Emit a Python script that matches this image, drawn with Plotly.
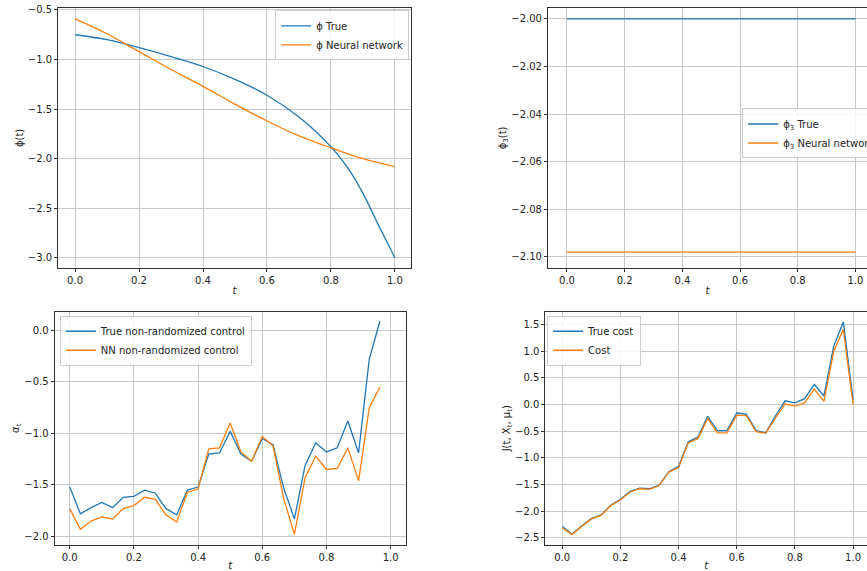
import plotly.graph_objects as go

# phi
t_phi = [0.0, 0.1, 0.2, 0.3, 0.4, 0.5, 0.6, 0.7, 0.8, 0.85, 0.9, 0.95, 1.0]
phi_true = [-0.75, -0.80, -0.88, -0.97, -1.07, -1.20, -1.36, -1.58, -1.88, -2.08, -2.35, -2.68, -3.0]
t_phi_nn = [0.0, 0.1, 0.2, 0.3, 0.4, 0.5, 0.6, 0.7, 0.8, 0.9, 1.0]
phi_nn = [-0.59, -0.74, -0.92, -1.10, -1.27, -1.45, -1.62, -1.77, -1.89, -2.00, -2.08]

# phi3
t_phi3 = [0.0, 1.0]
phi3_true = [-2.0, -2.0]
phi3_nn = [-2.098, -2.098]

# control
t_alpha = [k / 30 for k in range(30)]
alpha_true = [-1.52, -1.78, -1.72, -1.67, -1.72, -1.62, -1.61, -1.55, -1.58, -1.73,
              -1.79, -1.55, -1.52, -1.20, -1.19, -0.98, -1.20, -1.27, -1.05, -1.11,
              -1.53, -1.83, -1.31, -1.09, -1.18, -1.14, -0.88, -1.19, -0.28, 0.09]
alpha_nn = [-1.73, -1.93, -1.85, -1.81, -1.83, -1.73, -1.70, -1.62, -1.64, -1.79,
            -1.86, -1.57, -1.54, -1.15, -1.14, -0.90, -1.18, -1.27, -1.03, -1.12,
            -1.63, -1.98, -1.43, -1.22, -1.35, -1.34, -1.14, -1.46, -0.75, -0.55]

# cost
t_cost = [k / 30 for k in range(31)]
cost_true = [-2.29, -2.43, -2.28, -2.14, -2.07, -1.89, -1.78, -1.63, -1.57, -1.58,
             -1.51, -1.26, -1.16, -0.70, -0.61, -0.22, -0.49, -0.49, -0.16, -0.18,
             -0.49, -0.53, -0.21, 0.07, 0.03, 0.11, 0.38, 0.16, 1.09, 1.55, 0.09]
cost_nn = [-2.31, -2.44, -2.29, -2.15, -2.08, -1.90, -1.79, -1.64, -1.58, -1.59,
           -1.52, -1.27, -1.18, -0.72, -0.64, -0.26, -0.53, -0.53, -0.20, -0.21,
           -0.51, -0.54, -0.25, 0.01, -0.03, 0.03, 0.29, 0.06, 0.99, 1.41, 0.0]

blue = "#1f77b4"
orange = "#ff7f0e"

def line(x, y, name, color, xa, ya, lg, shape="linear"):
    return go.Scatter(x=x, y=y, name=name, mode="lines", line=dict(color=color, width=1.3, shape=shape),
                      xaxis=xa, yaxis=ya, legend=lg)

fig = go.Figure()
fig.add_trace(line(t_phi, phi_true, "ϕ True", blue, "x", "y", "legend", "spline"))
fig.add_trace(line(t_phi_nn, phi_nn, "ϕ Neural network", orange, "x", "y", "legend", "spline"))
fig.add_trace(line(t_phi3, phi3_true, "ϕ<sub>3</sub> True", blue, "x2", "y2", "legend2"))
fig.add_trace(line(t_phi3, phi3_nn, "ϕ<sub>3</sub> Neural network", orange, "x2", "y2", "legend2"))
fig.add_trace(line(t_alpha, alpha_true, "True non-randomized control", blue, "x3", "y3", "legend3"))
fig.add_trace(line(t_alpha, alpha_nn, "NN non-randomized control", orange, "x3", "y3", "legend3"))
fig.add_trace(line(t_cost, cost_true, "True cost", blue, "x4", "y4", "legend4"))
fig.add_trace(line(t_cost, cost_nn, "Cost", orange, "x4", "y4", "legend4"))

def ax(domain, rng, anchor, title, dtick, mirror=True, fmt=None, standoff=2):
    d = dict(domain=domain, range=rng, anchor=anchor, showline=True, linecolor="#333", linewidth=1,
             mirror=mirror, ticks="outside", ticklen=3, tickcolor="#333", showgrid=True,
             gridcolor="#c8c8c8", gridwidth=1, zeroline=False, dtick=dtick, automargin=False,
             title=dict(text=title, standoff=standoff, font=dict(size=10)), tickfont=dict(size=10))
    if fmt:
        d["tickformat"] = fmt
    return d

leg = dict(bgcolor="rgba(255,255,255,0.85)", bordercolor="#ccc", borderwidth=1, font=dict(size=10),
           tracegroupgap=0, itemwidth=30)

fig.update_layout(
    width=867, height=571, showlegend=True,
    margin=dict(l=0, r=0, t=0, b=0, autoexpand=False),
    paper_bgcolor="white", plot_bgcolor="white",
    font=dict(family="DejaVu Sans", size=10, color="#222"),
    xaxis=ax([0.067, 0.474], [-0.053, 1.05], "y", "<i>t</i>", 0.2, fmt=".1f"),
    yaxis=ax([0.531, 0.986], [-3.10, -0.48], "x", "ϕ(t)", 0.5, fmt=".1f"),
    xaxis2=ax([0.632, 1.0], [-0.066, 1.04], "y2", "<i>t</i>", 0.2, fmt=".1f"),
    yaxis2=ax([0.531, 0.986], [-2.1046, -1.9954], "x2", "ϕ<sub>3</sub>(t)", 0.02, mirror=False, fmt=".2f"),
    xaxis3=ax([0.063, 0.468], [-0.047, 1.047], "y3", "<i>t</i>", 0.2, fmt=".1f"),
    yaxis3=ax([0.046, 0.454], [-2.08, 0.18], "x3", "α<sub>t</sub>", 0.5, fmt=".1f"),
    xaxis4=ax([0.629, 1.0], [-0.058, 1.048], "y4", "<i>t</i>", 0.2, fmt=".1f"),
    yaxis4=ax([0.046, 0.454], [-2.63, 1.74], "x4", "J(t, X<sub>t</sub>, μ<sub>t</sub>)", 0.5, mirror=False, fmt=".1f"),
    legend=dict(leg, x=0.472, y=0.982, xanchor="right", yanchor="top"),
    legend2=dict(leg, x=0.856, y=0.81, xanchor="left", yanchor="top"),
    legend3=dict(leg, x=0.069, y=0.447, xanchor="left", yanchor="top"),
    legend4=dict(leg, x=0.631, y=0.447, xanchor="left", yanchor="top"),
)

fig.write_html("out.html", config={"displayModeBar": False},
               post_script="document.body.style.margin='0';document.body.style.overflow='hidden';")
